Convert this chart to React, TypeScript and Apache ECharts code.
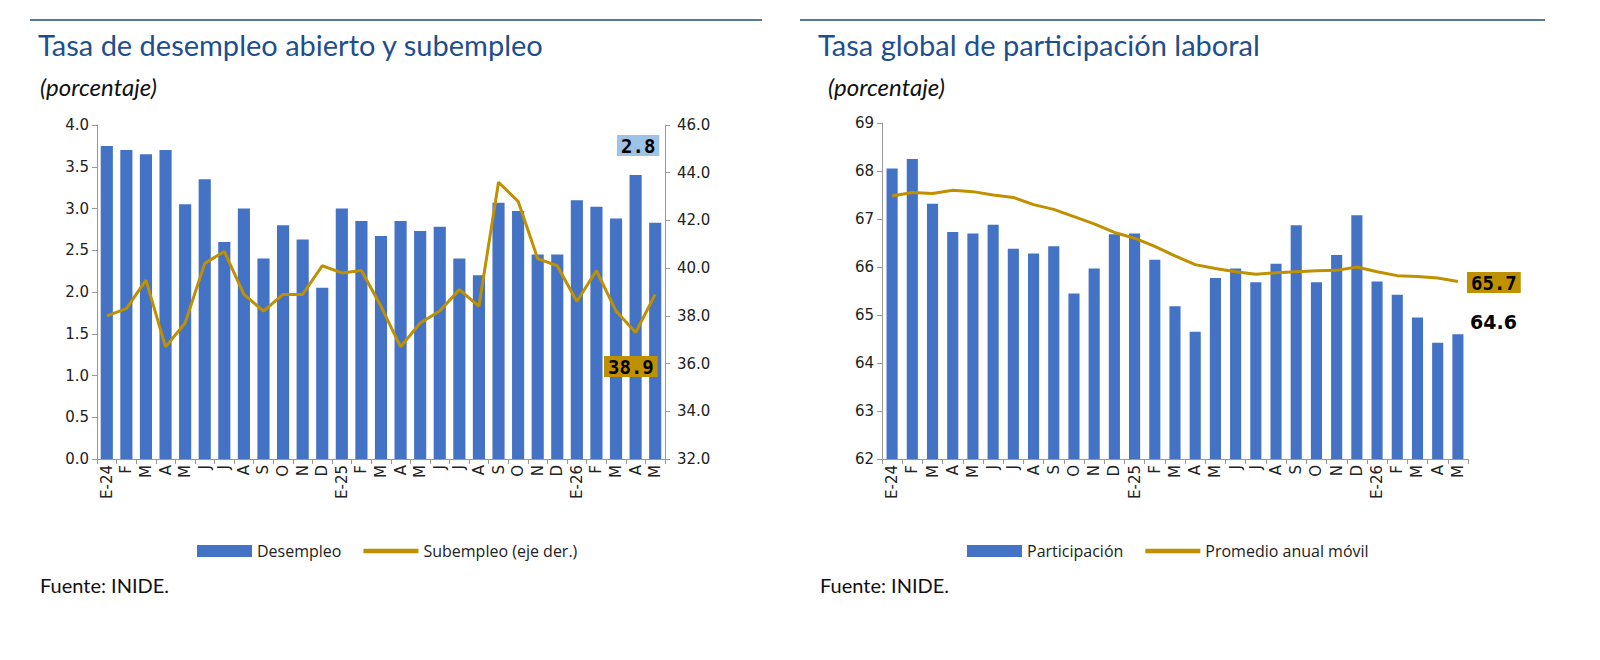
import { useEffect, useRef } from 'react';
import * as echarts from 'echarts';

const months = ['E-24','F','M','A','M','J','J','A','S','O','N','D','E-25','F','M','A','M','J','J','A','S','O','N','D','E-26','F','M','A','M'];
const desempleo = [3.75,3.7,3.65,3.7,3.05,3.35,2.6,3.0,2.4,2.8,2.63,2.05,3.0,2.85,2.67,2.85,2.73,2.78,2.4,2.2,3.07,2.97,2.45,2.45,3.1,3.02,2.88,3.4,2.83];
const subempleo = [38.0,38.3,39.5,36.7,37.7,40.2,40.7,38.9,38.2,38.9,38.9,40.1,39.8,39.9,38.4,36.7,37.7,38.2,39.1,38.4,43.6,42.8,40.4,40.1,38.6,39.9,38.2,37.3,38.9];
const participacion = [68.05,68.25,67.32,66.73,66.7,66.88,66.38,66.28,66.43,65.45,65.97,66.68,66.7,66.15,65.18,64.65,65.77,65.97,65.68,66.07,66.87,65.68,66.25,67.08,65.7,65.42,64.95,64.42,64.6];
const promedio = [67.48,67.55,67.53,67.6,67.57,67.5,67.45,67.3,67.2,67.05,66.9,66.72,66.6,66.43,66.23,66.05,65.97,65.9,65.85,65.88,65.9,65.92,65.93,66.0,65.9,65.82,65.8,65.77,65.7];

const BLUE = '#4472c4';
const GOLD = '#bf9000';
const TITLE = '#1f4e8c';
const tick = { fontFamily: 'DejaVu Sans', fontSize: 15, color: '#222' };
const axisLine = { show: true, lineStyle: { color: '#999' } };
const lineIcon = 'path://M0 0H100V8H0Z';

export default function App() {
  const ref = useRef<HTMLDivElement>(null);

  useEffect(() => {
    document.body.style.margin = '0';
    if (!ref.current) return;
    const chart = echarts.init(ref.current, null, { renderer: 'svg' });
    const xCommon = {
      type: 'category' as const,
      data: months,
      axisLine,
      axisTick: { show: true, lineStyle: { color: '#999' } },
      axisLabel: { ...tick, rotate: 90, interval: 0, margin: 6 },
    };
    const titleText = (x: number, y: number, text: string) => ({
      type: 'text', left: x, top: y,
      style: { text, fill: TITLE, font: '29px Lato' },
    });
    const subText = (x: number, y: number) => ({
      type: 'text', left: x, top: y,
      style: { text: '(porcentaje)', fill: '#111', font: 'italic 24px Lato' },
    });
    const boxLabel = (x: number, y: number, text: string, bg: string) => ({
      type: 'text', left: x, top: y, z: 100,
      style: { text, fill: '#000', font: 'bold 19px "DejaVu Sans Mono"', backgroundColor: bg, padding: [1, 4] },
    });
    const legendText = { fontFamily: 'Open Sans', fontSize: 16, color: '#222' };

    chart.setOption({
      animation: false,
      grid: [
        { left: 97, right: 935, top: 125, bottom: 201 },
        { left: 882, right: 132, top: 123, bottom: 201 },
      ],
      xAxis: [
        { ...xCommon, gridIndex: 0 },
        { ...xCommon, gridIndex: 1 },
      ],
      yAxis: [
        { gridIndex: 0, min: 0, max: 4, interval: 0.5, axisLine, axisTick: { show: true },
          splitLine: { show: false }, axisLabel: { ...tick, formatter: (v: number) => v.toFixed(1) } },
        { gridIndex: 0, min: 32, max: 46, interval: 2, position: 'right', axisLine, axisTick: { show: true },
          splitLine: { show: false }, axisLabel: { ...tick, margin: 12, formatter: (v: number) => v.toFixed(1) } },
        { gridIndex: 1, min: 62, max: 69, interval: 1, axisLine, axisTick: { show: true },
          splitLine: { show: false }, axisLabel: tick },
      ],
      legend: [
        { left: 192, top: 538, itemWidth: 55, itemHeight: 12, itemGap: 22, textStyle: legendText,
          data: [{ name: 'Desempleo', icon: 'rect' }, { name: 'Subempleo (eje der.)', icon: lineIcon }] },
        { left: 962, top: 538, itemWidth: 55, itemHeight: 12, itemGap: 22, textStyle: legendText,
          data: [{ name: 'Participación', icon: 'rect' }, { name: 'Promedio anual móvil', icon: lineIcon }] },
      ],
      series: [
        { name: 'Desempleo', type: 'bar', xAxisIndex: 0, yAxisIndex: 0, data: desempleo,
          barWidth: '62%', itemStyle: { color: BLUE } },
        { name: 'Subempleo (eje der.)', type: 'line', xAxisIndex: 0, yAxisIndex: 1, data: subempleo,
          symbol: 'none', lineStyle: { color: GOLD, width: 3 }, itemStyle: { color: GOLD } },
        { name: 'Participación', type: 'bar', xAxisIndex: 1, yAxisIndex: 2, data: participacion,
          barWidth: '55%', itemStyle: { color: BLUE } },
        { name: 'Promedio anual móvil', type: 'line', xAxisIndex: 1, yAxisIndex: 2, data: promedio,
          symbol: 'none', lineStyle: { color: GOLD, width: 3 }, itemStyle: { color: GOLD } },
      ],
      graphic: [
        { type: 'line', shape: { x1: 30, y1: 20, x2: 762, y2: 20 }, style: { stroke: '#1f4e79', lineWidth: 1.5 } },
        { type: 'line', shape: { x1: 800, y1: 20, x2: 1545, y2: 20 }, style: { stroke: '#1f4e79', lineWidth: 1.5 } },
        titleText(38, 30, 'Tasa de desempleo abierto y subempleo'),
        subText(40, 74),
        titleText(818, 30, 'Tasa global de participación laboral'),
        subText(828, 74),
        boxLabel(617, 135, desempleo[desempleo.length - 1].toFixed(1), '#9dc3e6'),
        boxLabel(604, 356, subempleo[subempleo.length - 1].toFixed(1), GOLD),
        boxLabel(1467, 272, promedio[promedio.length - 1].toFixed(1), GOLD),
        { type: 'text', left: 1470, top: 312,
          style: { text: participacion[participacion.length - 1].toFixed(1), fill: '#000', font: 'bold 19px "DejaVu Sans"' } },
        { type: 'text', left: 40, top: 575, style: { text: 'Fuente: INIDE.', fill: '#111', font: '20px Lato' } },
        { type: 'text', left: 820, top: 575, style: { text: 'Fuente: INIDE.', fill: '#111', font: '20px Lato' } },
      ],
    });
    return () => chart.dispose();
  }, []);

  return <div ref={ref} style={{ width: 1600, height: 660 }} />;
}
